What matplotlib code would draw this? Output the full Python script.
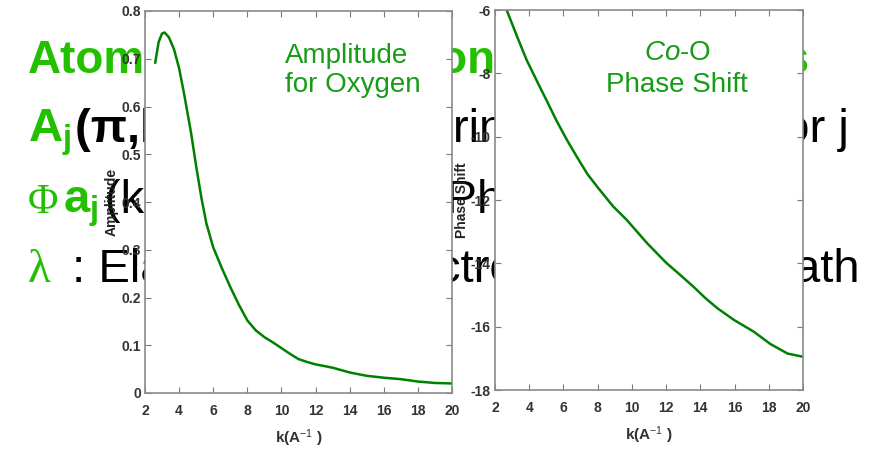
import matplotlib
matplotlib.use("Agg")
import matplotlib.pyplot as plt
from matplotlib import font_manager

# ---- curves: backscattering amplitude of O and Co-O phase shift vs k ----
k_amp = [2.6, 2.8, 3.0, 3.15, 3.4, 3.7, 4.0, 4.3, 4.7, 5.0, 5.3, 5.6, 6.0, 6.5,
         7.0, 7.5, 8.0, 8.5, 9.0, 9.5, 10.0, 10.5, 11.0, 11.5, 12.0, 13.0,
         14.0, 15.0, 16.0, 17.0, 18.0, 19.0, 20.0]
amp_oxygen = [0.692, 0.735, 0.753, 0.755, 0.745, 0.72, 0.68, 0.625, 0.545,
              0.475, 0.41, 0.355, 0.305, 0.262, 0.222, 0.185, 0.152, 0.131,
              0.117, 0.106, 0.094, 0.082, 0.071, 0.065, 0.060, 0.053, 0.043,
              0.036, 0.032, 0.029, 0.024, 0.021, 0.020]

k_phase = [2.68, 3.3, 3.85, 4.5, 5.0, 5.6, 6.2, 6.8, 7.4, 8.0, 8.9, 9.7, 10.9,
           12.0, 13.0, 13.6, 14.3, 15.0, 16.0, 17.1, 18.1, 19.1, 20.0]
phase_co_o = [-6.0, -6.85, -7.58, -8.3, -8.84, -9.5, -10.1, -10.65, -11.18,
              -11.6, -12.2, -12.63, -13.37, -13.98, -14.45, -14.74, -15.1,
              -15.42, -15.8, -16.15, -16.55, -16.85, -16.95]

k_ticks = [2, 4, 6, 8, 10, 12, 14, 16, 18, 20]
k_tick_labels = ["2", "4", "6", "8", "10", "12", "14", "16", "18", "20"]
amp_ticks = [0, 0.1, 0.2, 0.3, 0.4, 0.5, 0.6, 0.7, 0.8]
amp_tick_labels = ["0", "0.1", "0.2", "0.3", "0.4", "0.5", "0.6", "0.7", "0.8"]
phase_ticks = [-18, -16, -14, -12, -10, -8, -6]
phase_tick_labels = ["-18", "-16", "-14", "-12", "-10", "-8", "-6"]

# ---- fonts ----
plt.rcParams["font.family"] = "Liberation Sans"
plt.rcParams["mathtext.fontset"] = "custom"
plt.rcParams["mathtext.rm"] = "Liberation Sans"
plt.rcParams["mathtext.it"] = "Liberation Sans:italic"
plt.rcParams["mathtext.bf"] = "Liberation Sans:bold"

installed = {f.name for f in font_manager.fontManager.ttflist}
narrow = "Liberation Sans Narrow" if "Liberation Sans Narrow" in installed else "Liberation Sans"

W, H = 877, 453
SLIDE_GREEN = "#22c000"
NOTE_GREEN = "#169c16"
LINE_GREEN = "#008000"

fig = plt.figure(figsize=(W / 100, H / 100), dpi=100)
fig.patch.set_facecolor("white")


def slide_text(x, y, s, **kw):
    """Slide text placed by pixel position (x = anchor, y = baseline)."""
    kw.setdefault("va", "baseline")
    kw.setdefault("zorder", 1)
    fig.text(x / W, 1 - y / H, s, **kw)


# ---- slide text behind the two plots ----
slide_text(28, 73, "Atomic", fontsize=33, fontweight="bold", color=SLIDE_GREEN)
slide_text(495, 73, "Contribution", fontsize=33, fontweight="bold",
           color=SLIDE_GREEN, ha="right")
slide_text(810, 73, "Functions", fontsize=33, fontweight="bold",
           color=SLIDE_GREEN, ha="right")

slide_text(28, 142, r"A$_{\mathbf{j}}$", fontsize=34, fontweight="bold", color=SLIDE_GREEN)
slide_text(75, 142, "(\u03c0,k) :", fontsize=34, fontweight="bold", color="black")
slide_text(222, 142, "Backscattering Amplitude", fontsize=34, color="black")
slide_text(849, 142, "for j", fontsize=34, color="black", ha="right")

slide_text(28, 213, "\u03a6", fontsize=30, family="Liberation Serif", color=SLIDE_GREEN)
slide_text(63, 213, r"a$_{\mathbf{j}}$", fontsize=34, fontweight="bold", color=SLIDE_GREEN)
slide_text(105, 213, "(k) :", fontsize=34, color="black")
slide_text(220, 213, "Scattering Phase Shift", fontsize=34, color="black")

slide_text(28, 282, "\u03bb", fontsize=34, family="Liberation Serif", color=SLIDE_GREEN)
slide_text(72, 282, ": Elastic Photoelectron", fontsize=34, color="black")
slide_text(860, 282, "Mean Free Path", fontsize=34, color="black", ha="right")


def style_panel(ax, ticks, tick_labels, ylabel):
    ax.set_facecolor("white")
    ax.set_zorder(2)
    ax.set_xlim(2, 20)
    ax.set_xticks(k_ticks)
    ax.set_xticklabels(k_tick_labels)
    ax.set_ylim(ticks[0], ticks[-1])
    ax.set_yticks(ticks)
    ax.set_yticklabels(tick_labels)
    for sp in ax.spines.values():
        sp.set_color("#8a8a8a")
        sp.set_linewidth(1.2)
    ax.tick_params(direction="in", length=4, width=0.8, color="#7a7a7a",
                   top=True, right=True, labelsize=10, labelcolor="#333333")
    ax.tick_params(axis="x", pad=8)
    ax.tick_params(axis="y", pad=3)
    for lbl in ax.get_xticklabels() + ax.get_yticklabels():
        lbl.set_family(narrow)
        lbl.set_fontweight("bold")
    ax.set_xlabel(r"k(A$^{-1}$ )", family=narrow, fontsize=11,
                  fontweight="bold", color="#333333")
    ax.xaxis.set_label_coords(0.5, -0.09)
    ax.set_ylabel(ylabel, family=narrow, fontsize=10, fontweight="bold",
                  color="#222222")
    ax.yaxis.set_label_coords(-0.085, 0.5)


# amplitude panel
ax1 = fig.add_axes([145 / W, 1 - 393 / H, 307 / W, 382 / H])
ax1.plot(k_amp, amp_oxygen, color=LINE_GREEN, linewidth=1.8)
style_panel(ax1, amp_ticks, amp_tick_labels, "Amplitude")
ax1.text(0.456, 0.864, "Amplitude", transform=ax1.transAxes, fontsize=20,
         color=NOTE_GREEN, va="baseline")
ax1.text(0.456, 0.788, "for Oxygen", transform=ax1.transAxes, fontsize=20,
         color=NOTE_GREEN, va="baseline")

# phase shift panel
ax2 = fig.add_axes([495 / W, 1 - 390 / H, 308 / W, 380 / H])
ax2.plot(k_phase, phase_co_o, color=LINE_GREEN, linewidth=1.8)
style_panel(ax2, phase_ticks, phase_tick_labels, "Phase Shift")
ax2.text(0.591, 0.868, r"$\mathit{Co}$-O", transform=ax2.transAxes, fontsize=20,
         color=NOTE_GREEN, ha="center", va="baseline")
ax2.text(0.591, 0.784, "Phase Shift", transform=ax2.transAxes, fontsize=20,
         color=NOTE_GREEN, ha="center", va="baseline")

fig.savefig("out.png", dpi=100, facecolor="white")
